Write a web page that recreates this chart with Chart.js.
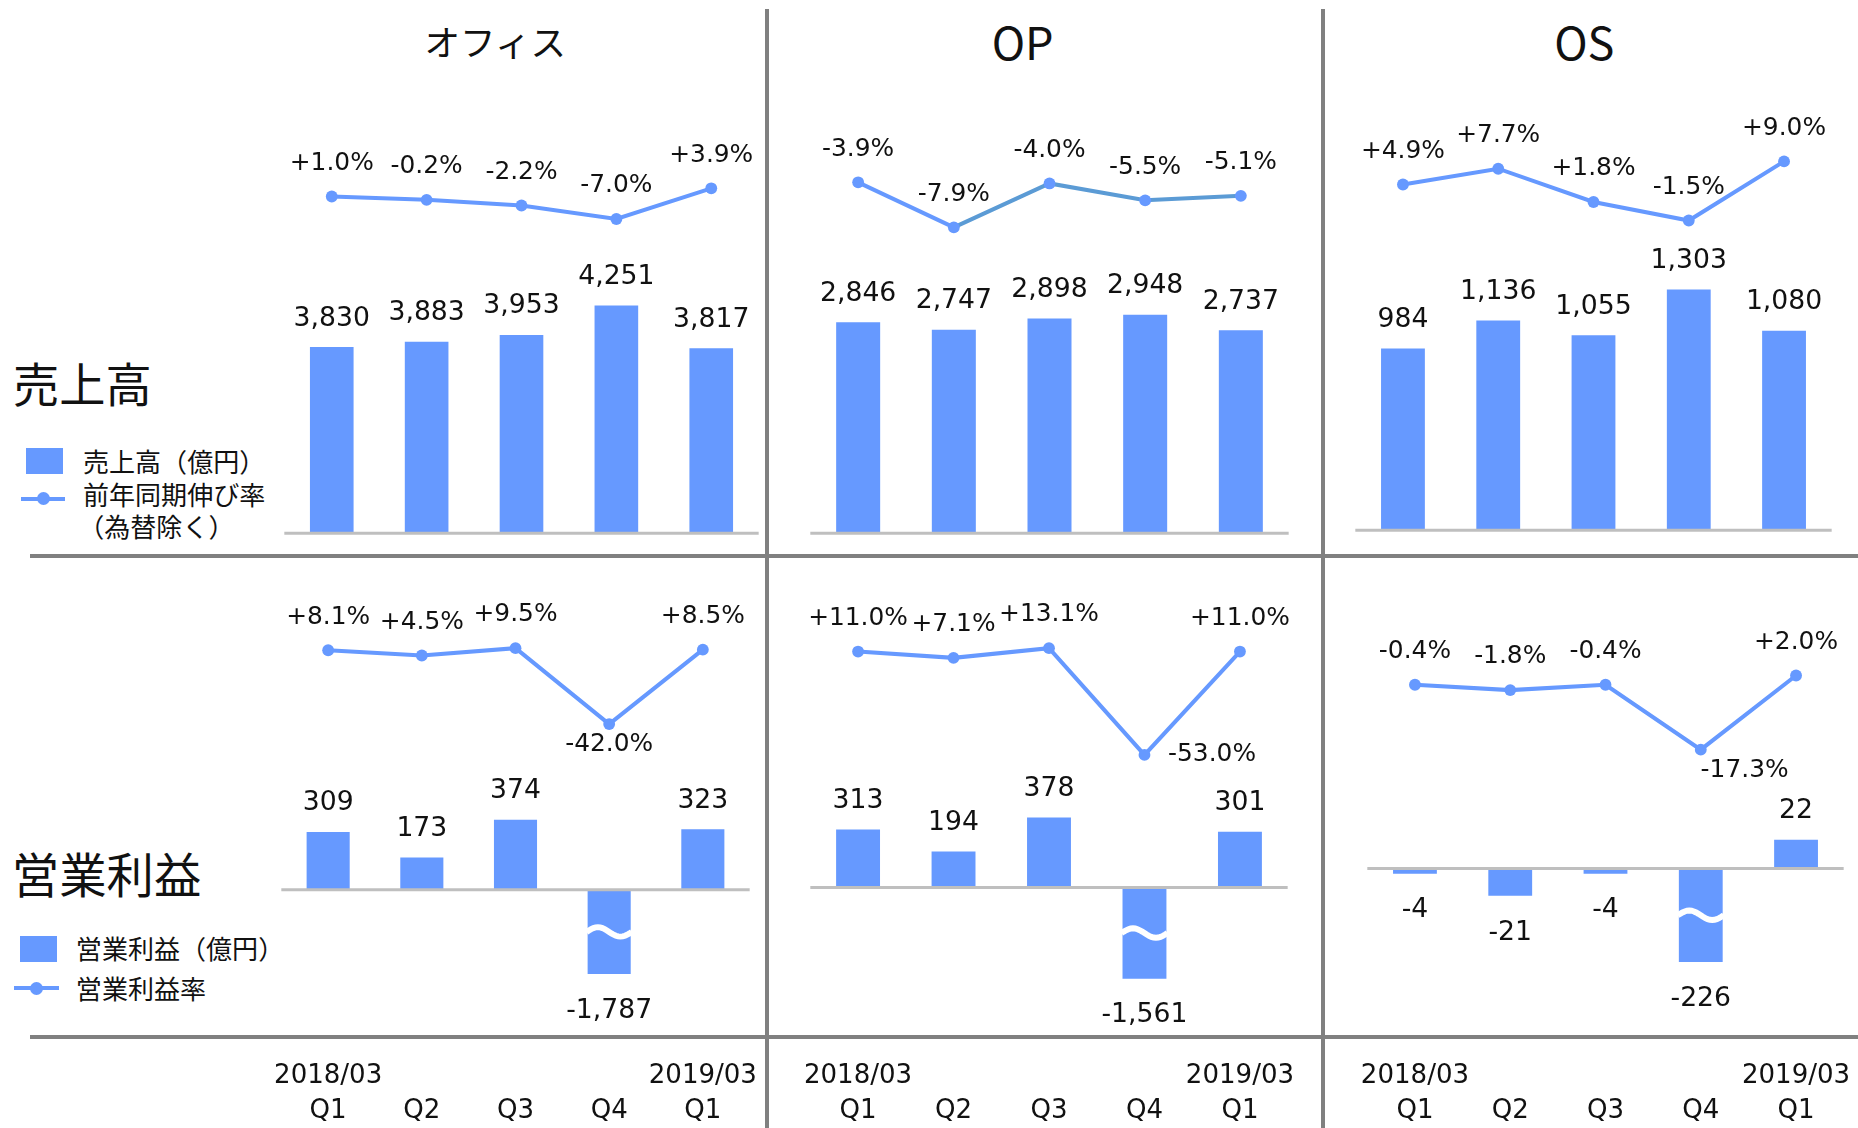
<!DOCTYPE html>
<html lang="ja">
<head>
<meta charset="utf-8">
<script src="https://cdn.jsdelivr.net/npm/chart.js@4.4.1/dist/chart.umd.min.js"></script>
<style>
  html, body { margin: 0; padding: 0; background: #fff; }
  #stage { position: relative; width: 1858px; height: 1128px; overflow: hidden; color: #111; }
  .abs { position: absolute; white-space: nowrap; }
  canvas { position: absolute; }
</style>
</head>
<body>
<div id="stage"></div>
<script>
// ---- data ----
const quarters = [['2018/03', 'Q1'], ['', 'Q2'], ['', 'Q3'], ['', 'Q4'], ['2019/03', 'Q1']];
const segments = ['オフィス', 'OP', 'OS'];

const officeSales       = [3830, 3883, 3953, 4251, 3817];
const officeSalesGrowth = [1.0, -0.2, -2.2, -7.0, 3.9];
const opSales           = [2846, 2747, 2898, 2948, 2737];
const opSalesGrowth     = [-3.9, -7.9, -4.0, -5.5, -5.1];
const osSales           = [984, 1136, 1055, 1303, 1080];
const osSalesGrowth     = [4.9, 7.7, 1.8, -1.5, 9.0];

const officeProfit = [309, 173, 374, -1787, 323];
const officeMargin = [8.1, 4.5, 9.5, -42.0, 8.5];
const opProfit     = [313, 194, 378, -1561, 301];
const opMargin     = [11.0, 7.1, 13.1, -53.0, 11.0];
const osProfit     = [-4, -21, -4, -226, 22];
const osMargin     = [-0.4, -1.8, -0.4, -17.3, 2.0];

// ---- layout (drawn at 1568 wide, scaled to the window) ----
const S = 1858 / 1568;
const px = v => v * S;
const BLUE = '#6699FF';
const DARK = '#5B9BD5';
const GRID = '#808080';
const NUM_FONT = '"DejaVu Sans", Verdana, sans-serif';
const JP_FONT = '"Noto Sans CJK JP", "Noto Sans", sans-serif';
const stage = document.getElementById('stage');

function addBox(x, y, w, h, color, round) {
  const d = document.createElement('div');
  d.className = 'abs';
  d.style.left = px(x) + 'px';
  d.style.top = px(y) + 'px';
  d.style.width = px(w) + 'px';
  d.style.height = px(h) + 'px';
  d.style.background = color;
  if (round) d.style.borderRadius = '50%';
  stage.appendChild(d);
}

function addText(txt, x, y, size, font, center) {
  const d = document.createElement('div');
  d.className = 'abs';
  d.textContent = txt;
  d.style.left = px(x) + 'px';
  d.style.top = px(y) + 'px';
  d.style.fontSize = px(size) + 'px';
  d.style.lineHeight = '1';
  d.style.fontFamily = font;
  d.style.transform = center ? 'translate(-50%,-50%)' : 'translate(0,-50%)';
  stage.appendChild(d);
}

// frame lines
addBox(645.5, 8, 3.5, 944, GRID);
addBox(1114.5, 8, 3.5, 944, GRID);
addBox(25, 467.5, 1543, 3.5, GRID);
addBox(25, 873.5, 1543, 3.5, GRID);

// titles
addText(segments[0], 418, 35, 30, JP_FONT, true);
addText(segments[1], 863, 35, 38, JP_FONT, true);
addText(segments[2], 1337, 35, 38, JP_FONT, true);

// row labels
addText('売上高', 11, 322, 39, JP_FONT, false);
addText('営業利益', 10, 737, 40, JP_FONT, false);

// legends
addBox(22, 378, 31, 22, BLUE);
addText('売上高（億円）', 70, 389, 22, JP_FONT, false);
addBox(18, 419.5, 37, 3, BLUE);
addBox(31.5, 415.5, 11, 11, BLUE, true);
addText('前年同期伸び率', 70, 417, 22, JP_FONT, false);
addText('（為替除く）', 66, 444, 22, JP_FONT, false);

addBox(17, 790, 31, 22, BLUE);
addText('営業利益（億円）', 64, 800, 22, JP_FONT, false);
addBox(12, 832.5, 38, 3, BLUE);
addBox(25.5, 828.5, 11, 11, BLUE, true);
addText('営業利益率', 64, 834, 22, JP_FONT, false);

// ---- per-chart drawing: baseline, broken bars, value labels ----
const panelMarks = {
  id: 'panelMarks',
  afterDatasetDraw(chart, args) {
    if (args.index !== 0) return;
    const { ctx, chartArea } = chart;
    const yScale = chart.scales.y;
    const basePx = yScale.getPixelForValue(Math.max(yScale.min, 0));
    ctx.save();
    ctx.strokeStyle = '#BFBFBF';
    ctx.lineWidth = px(2.5);
    ctx.beginPath();
    ctx.moveTo(chartArea.left, basePx);
    ctx.lineTo(chartArea.right, basePx);
    ctx.stroke();

    // wave mark on bars cut off by the axis
    const values = chart.data.datasets[0].data;
    args.meta.data.forEach((el, i) => {
      if (values[i] >= yScale.min) return;
      const w = el.width;
      const xl = el.x - w / 2 - 1, xr = el.x + w / 2 + 1;
      const yc = basePx + (chartArea.bottom - basePx) * 0.5;
      ctx.strokeStyle = '#fff';
      ctx.lineWidth = px(5);
      ctx.beginPath();
      for (let k = 0; k <= 20; k++) {
        const t = k / 20;
        const x = xl + (xr - xl) * t;
        const y = yc - px(4) * Math.sin(2 * Math.PI * t);
        if (k === 0) ctx.moveTo(x, y); else ctx.lineTo(x, y);
      }
      ctx.stroke();
    });
    ctx.restore();
  },
  afterDatasetsDraw(chart, args, opts) {
    const { ctx, chartArea } = chart;
    const bars = chart.data.datasets[0].data;
    const rates = chart.data.datasets[1].data;
    const low = Math.min(...rates);
    ctx.save();
    ctx.fillStyle = '#111';
    ctx.textAlign = 'center';
    ctx.textBaseline = 'middle';

    ctx.font = px(22.5) + 'px ' + NUM_FONT;
    chart.getDatasetMeta(0).data.forEach((el, i) => {
      const v = bars[i];
      const y = v >= 0 ? el.y - px(24) : Math.min(el.y, chartArea.bottom) + px(31);
      ctx.fillText(v.toLocaleString('en-US'), el.x, y);
    });

    ctx.font = px(21) + 'px ' + NUM_FONT;
    chart.getDatasetMeta(1).data.forEach((pt, i) => {
      const v = rates[i];
      let x = pt.x, y = pt.y - px(28);
      if (opts.low && v === low) {
        x = pt.x + px(opts.low.dx);
        y = pt.y + px(opts.low.dy);
      }
      ctx.fillText((v > 0 ? '+' : '') + v.toFixed(1) + '%', x, y);
    });
    ctx.restore();
  }
};

const panels = [
  { bars: officeSales, line: officeSalesGrowth, L: 240, R: 640, T: 90, B: 450,
    yMin: 1941, yMax: 6273, y2Min: -118.6, y2Max: 33.0 },
  { bars: opSales, line: opSalesGrowth, L: 683.6, R: 1087.4, T: 90, B: 450,
    yMin: 0, yMax: 5760, y2Min: -35.05, y2Max: 2.84, darkFrom: 1 },
  { bars: osSales, line: osSalesGrowth, L: 1144, R: 1546, T: 90, B: 448,
    yMin: 0, yMax: 2295, y2Min: -56.45, y2Max: 18.76 },
  { bars: officeProfit, line: officeMargin, L: 237.5, R: 632.5, T: 490, B: 822,
    yMin: -449, yMax: 1652, y2Min: -211.6, y2Max: 55.5, axis: true, low: { dx: 0, dy: 17 } },
  { bars: opProfit, line: opMargin, L: 683.75, R: 1086.25, T: 490, B: 826,
    yMin: -493.6, yMax: 1660, y2Min: -191.6, y2Max: 55.07, axis: true, low: { dx: 57, dy: 0 } },
  { bars: osProfit, line: osMargin, L: 1154, R: 1556, T: 490, B: 812,
    yMin: -71.8, yMax: 220.9, y2Min: -72.6, y2Max: 26.76, axis: true, low: { dx: 37, dy: 18 } }
];

function makePanel(p) {
  const padL = 45, padR = 45, padT = 40;
  const extraB = p.axis ? 952 - p.B : 10;
  const cv = document.createElement('canvas');
  cv.width = Math.round(px(p.R - p.L + padL + padR));
  cv.height = Math.round(px(p.B - p.T + padT + extraB));
  cv.style.left = px(p.L - padL) + 'px';
  cv.style.top = px(p.T - padT) + 'px';
  stage.appendChild(cv);

  new Chart(cv.getContext('2d'), {
    data: {
      labels: quarters,
      datasets: [
        {
          type: 'bar',
          data: p.bars,
          backgroundColor: BLUE,
          yAxisID: 'y',
          barPercentage: 0.46,
          categoryPercentage: 1,
          order: 2
        },
        {
          type: 'line',
          data: p.line,
          yAxisID: 'y2',
          borderColor: BLUE,
          borderWidth: px(3.4),
          pointRadius: px(5),
          pointHoverRadius: px(5),
          pointBackgroundColor: BLUE,
          pointBorderWidth: 0,
          tension: 0,
          order: 1,
          segment: {
            borderColor: c => (p.darkFrom !== undefined && c.p0DataIndex >= p.darkFrom) ? DARK : BLUE
          }
        }
      ]
    },
    options: {
      responsive: false,
      animation: false,
      events: [],
      layout: {
        padding: { left: px(padL), right: px(padR), top: px(padT), bottom: p.axis ? 0 : px(extraB) }
      },
      plugins: {
        legend: { display: false },
        tooltip: { enabled: false },
        panelMarks: { low: p.low }
      },
      scales: {
        x: {
          display: !!p.axis,
          grid: { display: false, drawTicks: false },
          border: { display: false },
          ticks: {
            padding: px(893 - p.B),
            color: '#111',
            autoSkip: false,
            maxRotation: 0,
            font: { family: NUM_FONT, size: px(22), lineHeight: px(30).toFixed(2) + 'px' }
          },
          afterFit(scale) {
            if (!p.axis) return;
            scale.height = px(extraB);
            scale.paddingLeft = 0;
            scale.paddingRight = 0;
          }
        },
        y: { display: false, min: p.yMin, max: p.yMax, beginAtZero: false },
        y2: { display: false, min: p.y2Min, max: p.y2Max, position: 'right' }
      }
    },
    plugins: [panelMarks]
  });
}

panels.forEach(makePanel);
</script>
</body>
</html>
